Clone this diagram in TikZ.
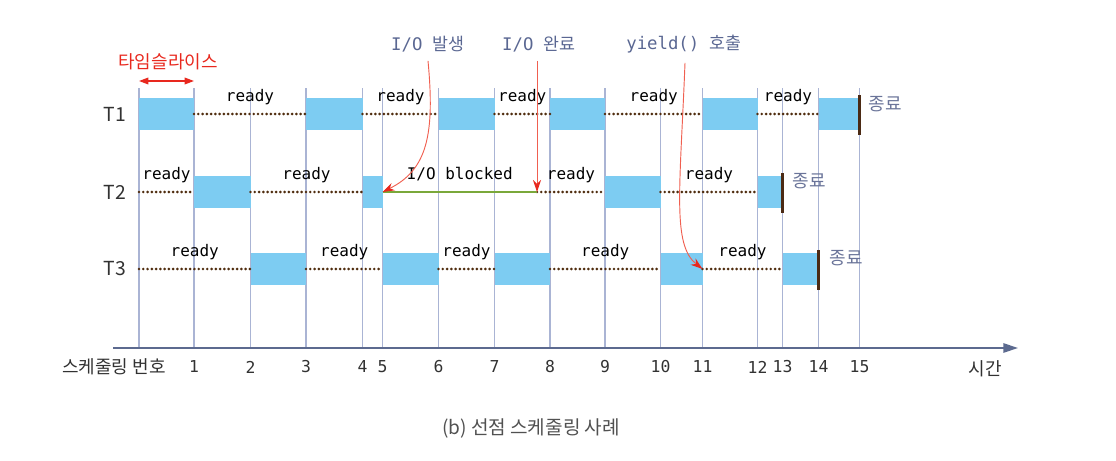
\documentclass[tikz,border=0pt]{standalone}
\usepackage{fontspec}
\setmainfont{Noto Sans CJK KR}
\newfontfamily\monof{DejaVu Sans Mono}
\usetikzlibrary{arrows.meta,calc}
\definecolor{runblue}{RGB}{125,204,242}
\definecolor{gridc}{RGB}{170,180,212}
\definecolor{axisc}{RGB}{92,106,143}
\definecolor{dotc}{RGB}{80,45,15}
\definecolor{redc}{RGB}{232,40,30}
\definecolor{redl}{RGB}{240,95,80}
\definecolor{annc}{RGB}{90,103,146}
\definecolor{endc}{RGB}{106,116,153}
\definecolor{greenc}{RGB}{122,168,58}
\definecolor{barc}{RGB}{75,42,20}
\definecolor{txtc}{RGB}{50,50,50}
\newcommand\runbox[3]{\fill[run] ($(t#1|-#3)+(0,-16)$) rectangle ($(t#2|-#3)+(0,16)$);}
\newcommand\readyseg[3]{\draw[readyln] (t#1|-#3) -- node[readylbl]{ready} (t#2|-#3);}
\begin{document}
\begin{tikzpicture}[x=0.75pt,y=-0.75pt,
  gridln/.style={draw=gridc,line width=0.8pt},
  run/.style={fill=runblue},
  readyln/.style={draw=dotc,line width=2.2pt,line cap=round,dash pattern=on 0pt off 3.2pt},
  readylbl/.style={midway,yshift=12.75pt,font=\monof\fontsize{12}{14}\selectfont,text=black,inner sep=0pt},
  blockln/.style={draw=greenc,line width=1.9pt},
  endbar/.style={draw=barc,line width=2.2pt},
  endlbl/.style={anchor=west,text=endc,font=\fontsize{13.5}{15}\selectfont,inner sep=0pt},
  annlbl/.style={text=annc,font=\fontsize{13}{15}\selectfont,inner sep=2pt},
  redarrow/.style={draw=redl,line width=0.7pt,-{Stealth[length=9pt,width=6pt,color=redc]}},
  rowlbl/.style={text=txtc,font=\fontsize{13.5}{15}\selectfont},
  numlbl/.style={text=txtc,font=\monof\fontsize{12.3}{14}\selectfont},
  axisln/.style={draw=axisc,line width=1.4pt,-{Triangle[length=11pt,width=7pt]}}]
\useasboundingbox (0,0) rectangle (1116,460);
% time lines
\coordinate (t0) at (139,347);
\coordinate (t1) at (194,347);
\coordinate (t2) at (250.5,347);
\coordinate (t3) at (306,347);
\coordinate (t4) at (362.5,347);
\coordinate (t5) at (382.5,347);
\coordinate (t6) at (438.5,347);
\coordinate (t7) at (494.5,347);
\coordinate (t8) at (550,347);
\coordinate (t9) at (605,347);
\coordinate (t10) at (660.5,347);
\coordinate (t11) at (702.5,347);
\coordinate (t12) at (757.5,347);
\coordinate (t13) at (782.5,347);
\coordinate (t14) at (818.5,347);
\coordinate (t15) at (859.5,347);
\coordinate (top) at (0,88);
\coordinate (R1) at (0,114);
\coordinate (R2) at (0,192);
\coordinate (R3) at (0,269);
\coordinate (TS) at (0,81);
\foreach \i in {0,...,15} \draw[gridln] (t\i|-top) -- (t\i);
% axis
\coordinate (ax0) at (113,348);
\coordinate (ax1) at (1018,348);
\draw[axisln] (ax0) -- (ax1);
\foreach \i in {1,...,15} \node[numlbl] (n\i) at ($(t\i)+(0,20)$) {\i};
\node[rowlbl] (axl) at (114,367) {스케줄링 번호};
\node[rowlbl] (tl) at (985,369) {시간};
% row labels
\node[rowlbl,font=\fontsize{14.5}{16}\selectfont] (T1) at (115,114) {T1};
\node[rowlbl,font=\fontsize{14.5}{16}\selectfont] (T2) at (115,192) {T2};
\node[rowlbl,font=\fontsize{14.5}{16}\selectfont] (T3) at (115,269) {T3};
% running slices
\runbox{0}{1}{R1}\runbox{3}{4}{R1}\runbox{6}{7}{R1}\runbox{8}{9}{R1}\runbox{11}{12}{R1}\runbox{14}{15}{R1}
\runbox{1}{2}{R2}\runbox{4}{5}{R2}\runbox{9}{10}{R2}\runbox{12}{13}{R2}
\runbox{2}{3}{R3}\runbox{5}{6}{R3}\runbox{7}{8}{R3}\runbox{10}{11}{R3}\runbox{13}{14}{R3}
% ready lines
\readyseg{1}{3}{R1}\readyseg{4}{6}{R1}\readyseg{7}{8}{R1}\readyseg{9}{11}{R1}\readyseg{12}{14}{R1}
\readyseg{0}{1}{R2}\readyseg{2}{4}{R2}\readyseg{10}{12}{R2}
\readyseg{0}{2}{R3}\readyseg{3}{5}{R3}\readyseg{6}{7}{R3}\readyseg{8}{10}{R3}\readyseg{11}{13}{R3}
% I/O block
\coordinate (iostart) at (t5|-R2);
\coordinate (iodone) at (537,192);
\coordinate (yldst) at (t11|-R3);
\draw[readyln] (iodone) -- node[readylbl]{ready} (t9|-R2);
\draw[blockln] (iostart) -- node[readylbl,yshift=1pt]{I/O blocked} (iodone);
% end bars
\draw[endbar] ($(t15|-R1)+(0,-19)$) -- ($(t15|-R1)+(0,21)$);
\draw[endbar] ($(t13|-R2)+(0,-19)$) -- ($(t13|-R2)+(0,21)$);
\draw[endbar] ($(t14|-R3)+(0,-19)$) -- ($(t14|-R3)+(0,21)$);
\node[endlbl] (e1) at ($(t15|-R1)+(9,-10)$) {종료};
\node[endlbl] (e2) at ($(t13|-R2)+(10,-11)$) {종료};
\node[endlbl] (e3) at ($(t14|-R3)+(11,-11)$) {종료};
% time slice
\node[text=redc,font=\fontsize{13.5}{15}\selectfont] (tsl) at (168,62) {타임슬라이스};
\draw[draw=redc,line width=1pt,{Triangle[length=7pt,width=5pt]}-{Triangle[length=7pt,width=5pt]}] (t0|-TS) -- (t1|-TS);
% annotations
\node[annlbl] (io1) at (428,44) {{\monof I/O }발생};
\node[annlbl] (io2) at (539,44) {{\monof I/O }완료};
\node[annlbl] (yl) at (684,44) {{\monof yield() }호출};
\draw[redarrow] ($(io1.south)+(0,6)$) .. controls (435,135) and (427,170) .. (iostart);
\draw[redarrow] (iodone|-io2.south) ++(0,6) -- (iodone);
\draw[redarrow] ($(yl.south)+(1,7)$) .. controls (680,190) and (672,245) .. (yldst);
% caption
\node[text=txtc!85,font=\fontsize{14.3}{16}\selectfont] (cap) at (531,428) {(b) 선점 스케줄링 사례};
\end{tikzpicture}
\end{document}
